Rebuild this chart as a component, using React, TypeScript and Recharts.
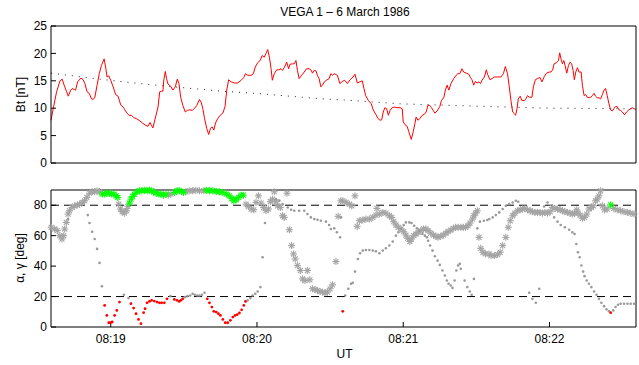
import { ComposedChart, Line, Scatter, XAxis, YAxis, ReferenceLine } from 'recharts'

// time is seconds after 08:18:00 UT
const timeDomain: [number, number] = [35.5, 275.5]
const timeTicks = [60, 120, 180, 240]
const btTicks = [0, 5, 10, 15, 20, 25]
const angleTicks = [0, 20, 40, 60, 80]
const angleLimits = [20, 80]

// measured field magnitude Bt [nT]
const btMeasured: [number, number][] = [
  [35.5, 7.8], [36.4, 9.9], [37.8, 13.0], [39.2, 15.0], [40.1, 15.3], [40.9, 14.2], [41.9, 13.0], [42.6, 12.2], [43.6, 13.3], [44.2, 13.6],
  [45.0, 13.4], [45.6, 13.3], [46.4, 14.8], [47.8, 15.5], [48.7, 15.2], [49.4, 14.5], [50.3, 13.0], [51.2, 12.7], [52.1, 11.7], [52.8, 11.6],
  [53.5, 12.0], [54.4, 14.2], [55.3, 16.3], [56.2, 17.8], [57.3, 19.0], [57.9, 17.5], [58.5, 15.7], [59.2, 15.9], [60.0, 15.1], [61.0, 13.9],
  [62.0, 12.5], [63.0, 12.2], [64.1, 10.6], [65.1, 10.2], [65.8, 9.7], [66.7, 9.1], [67.5, 8.7], [68.5, 8.7], [69.4, 8.3], [70.5, 8.1],
  [71.6, 7.8], [73.0, 7.3], [74.2, 6.9], [75.3, 6.7], [76.1, 7.4], [76.7, 6.9], [77.3, 6.4], [78.4, 8.4], [79.4, 10.2], [80.1, 13.0],
  [80.8, 13.1], [81.4, 13.1], [81.8, 15.2], [82.4, 16.7], [82.9, 15.4], [83.5, 14.4], [84.6, 14.0], [85.5, 13.3], [86.5, 13.9], [87.3, 15.3],
  [88.0, 14.5], [88.7, 12.0], [89.6, 10.5], [90.6, 9.3], [91.4, 9.6], [92.4, 9.7], [93.5, 9.6], [94.4, 10.0], [95.3, 10.5], [96.4, 11.6],
  [97.1, 11.1], [97.8, 9.9], [98.5, 8.1], [99.4, 6.3], [100.2, 5.2], [100.9, 6.3], [101.6, 6.6], [102.3, 6.0], [103.0, 7.3], [103.9, 8.1],
  [104.9, 8.7], [106.0, 9.1], [106.9, 10.3], [107.6, 13.3], [108.4, 15.2], [109.4, 14.8], [110.8, 14.6], [112.1, 14.6], [113.5, 15.1], [114.6, 15.6],
  [115.3, 16.3], [116.2, 16.0], [117.6, 16.0], [118.5, 16.3], [119.3, 17.5], [120.3, 18.3], [121.3, 18.7], [122.1, 19.6], [123.0, 19.3], [123.7, 20.0],
  [124.4, 20.7], [125.1, 19.3], [125.8, 17.2], [126.3, 15.1], [127.1, 16.3], [128.1, 17.0], [128.9, 17.0], [129.9, 17.2], [130.5, 16.9], [131.2, 17.4],
  [132.2, 18.4], [133.0, 17.2], [133.5, 18.0], [134.6, 18.1], [135.3, 18.1], [136.0, 18.7], [136.6, 16.9], [137.3, 15.4], [138.3, 16.0], [139.4, 16.6],
  [140.3, 17.2], [141.4, 17.2], [142.1, 17.0], [142.8, 16.4], [143.5, 16.9], [144.2, 16.8], [144.8, 16.0], [145.5, 15.4], [146.2, 13.9], [146.9, 14.2],
  [147.6, 14.8], [148.5, 15.1], [149.6, 15.4], [150.3, 16.3], [151.0, 16.0], [151.7, 16.3], [153.0, 16.0], [154.0, 14.5], [155.1, 14.9], [156.0, 15.1],
  [157.1, 14.5], [158.2, 15.2], [159.4, 15.7], [160.2, 16.2], [161.2, 14.6], [162.2, 14.8], [163.2, 15.0], [163.9, 13.6], [164.6, 12.3], [165.7, 11.4],
  [166.9, 10.8], [167.7, 9.7], [168.7, 8.9], [169.7, 8.1], [170.5, 7.8], [171.2, 7.9], [171.8, 9.3], [172.5, 10.1], [173.2, 9.9], [173.9, 8.7],
  [174.6, 9.6], [175.5, 10.1], [176.5, 10.2], [177.5, 10.1], [178.7, 10.1], [179.6, 9.9], [180.0, 7.5], [180.7, 7.0], [181.6, 6.7], [182.3, 5.7],
  [183.3, 4.3], [184.1, 5.7], [184.8, 7.2], [185.3, 8.4], [186.0, 7.8], [186.8, 8.1], [187.8, 8.7], [188.7, 8.9], [189.4, 9.3], [190.1, 10.5],
  [190.9, 10.5], [191.6, 10.1], [192.3, 9.6], [193.0, 9.1], [193.9, 9.5], [195.0, 10.3], [195.7, 11.4], [196.7, 12.0], [197.3, 13.3], [198.0, 14.2],
  [198.7, 13.3], [199.6, 14.5], [200.7, 15.4], [201.7, 16.0], [202.4, 16.3], [203.2, 16.3], [204.1, 17.2], [204.8, 16.6], [205.9, 16.4], [206.9, 16.2],
  [207.6, 15.6], [208.2, 15.2], [208.9, 14.2], [209.6, 14.9], [210.3, 14.6], [211.0, 14.8], [211.7, 14.5], [212.3, 15.1], [213.3, 15.7], [214.1, 17.0],
  [214.6, 16.2], [215.6, 15.2], [216.4, 15.4], [217.4, 15.7], [218.7, 15.7], [220.1, 15.7], [221.1, 16.3], [221.9, 17.6], [222.8, 16.3], [223.5, 13.9],
  [224.2, 11.4], [224.9, 9.3], [225.6, 9.0], [226.1, 8.7], [226.7, 9.9], [227.2, 11.7], [228.0, 12.2], [228.7, 11.4], [229.7, 11.4], [230.3, 11.7],
  [231.0, 12.3], [231.7, 12.0], [232.8, 12.0], [233.4, 13.9], [234.2, 15.2], [235.1, 15.4], [236.1, 15.6], [236.9, 14.8], [237.9, 15.8], [238.8, 16.4],
  [239.9, 16.6], [240.6, 16.6], [241.3, 17.0], [241.9, 18.1], [242.9, 18.3], [243.7, 18.7], [244.2, 20.1], [244.8, 18.9], [245.3, 18.1], [245.9, 18.7],
  [246.4, 17.8], [247.1, 16.4], [247.8, 17.8], [248.5, 18.4], [249.1, 18.1], [249.7, 16.9], [250.2, 15.2], [250.8, 16.6], [251.5, 17.4], [252.1, 16.6],
  [253.0, 16.6], [253.5, 14.2], [254.2, 12.3], [254.8, 12.5], [255.5, 12.0], [256.2, 11.9], [256.9, 12.0], [257.6, 12.3], [258.3, 12.7], [258.9, 12.2],
  [259.6, 11.9], [260.3, 11.9], [261.0, 11.7], [261.7, 12.5], [262.4, 13.3], [263.0, 13.6], [263.7, 12.3], [264.4, 10.8], [265.1, 9.7], [265.8, 9.5],
  [266.4, 9.9], [267.1, 10.3], [267.8, 10.3], [268.5, 9.7], [269.2, 9.6], [269.9, 9.3], [270.8, 8.8], [271.6, 9.3], [272.6, 9.7], [273.3, 9.9],
  [274.0, 10.1], [274.7, 9.9], [275.4, 9.8],
]

// model / reference field (dotted)
const btModel: [number, number][] = [
  [35.5, 16.4], [55.5, 15.3], [76.0, 14.3], [95.6, 13.5], [105.9, 13.1], [119.6, 12.7], [133.3, 12.2],
  [146.8, 11.7], [155.8, 11.5], [178.9, 10.8], [215.0, 10.3], [239.9, 10.0], [275.5, 9.9],
]

// alpha (asterisks), grey
const alphaGrey: [number, number][] = [
  [35.6, 65.5], [37.0, 64.4], [38.1, 63.3], [39.1, 60.0], [40.0, 57.8], [40.7, 60.0], [41.1, 64.4], [41.8, 68.7], [42.5, 74.2], [43.1, 76.4],
  [44.1, 78.5], [45.2, 79.6], [46.3, 80.1], [47.2, 80.7], [48.3, 81.8], [49.3, 82.9], [50.2, 85.1], [51.3, 87.9], [52.4, 88.8], [53.4, 88.8],
  [54.4, 89.5], [55.4, 88.8],
  [63.3, 80.7], [64.0, 77.5], [64.7, 75.7], [65.6, 74.8], [66.5, 76.4], [67.0, 79.3],
  [83.6, 86.6], [84.7, 87.3],
  [90.8, 88.8], [92.2, 89.5], [93.6, 89.5], [94.9, 89.9], [96.4, 89.5], [98.2, 89.5],
  [115.5, 80.7], [116.5, 79.2], [117.6, 77.5], [118.7, 77.0], [119.6, 81.8], [120.6, 86.2], [121.7, 81.4], [122.7, 78.5], [123.7, 76.4], [124.7, 77.5],
  [125.5, 82.3], [126.4, 84.0], [127.1, 88.8], [127.8, 82.3], [128.5, 79.6], [129.6, 78.5], [130.5, 73.1], [131.2, 72.0], [132.3, 87.9], [133.3, 63.9],
  [134.2, 53.5], [135.0, 48.0], [135.7, 44.7], [136.6, 40.4], [137.8, 37.1], [138.7, 31.6], [139.7, 30.5], [140.7, 37.1], [141.7, 31.0], [142.8, 25.1],
  [143.8, 24.7], [144.8, 24.0], [145.9, 23.3], [146.9, 22.9], [147.9, 22.5], [148.9, 22.9], [150.0, 25.1], [151.0, 27.7], [152.4, 43.0], [153.3, 72.7],
  [154.4, 82.9], [155.2, 82.9], [156.6, 81.8], [157.9, 80.7], [158.9, 79.6], [160.2, 86.2], [161.1, 66.1], [162.0, 69.8], [163.4, 70.3], [164.7, 70.9],
  [166.1, 70.9], [167.5, 72.0], [168.8, 73.5], [169.2, 77.9], [170.2, 74.2], [171.6, 75.3], [172.9, 74.8], [174.3, 73.1], [175.3, 72.0], [176.1, 69.2],
  [177.0, 67.0], [178.0, 65.5], [179.1, 64.4], [180.2, 62.6], [181.1, 60.4], [181.8, 58.3], [182.7, 56.1], [183.4, 57.8], [184.3, 60.0], [185.2, 61.1],
  [186.1, 62.2], [187.2, 63.3], [188.3, 64.4], [189.3, 64.4], [190.2, 63.3], [191.3, 61.7], [192.4, 60.4], [193.4, 59.6], [194.3, 58.9], [195.4, 59.6],
  [196.5, 60.4], [197.5, 61.7], [198.4, 62.6], [199.5, 63.7], [200.6, 64.8], [201.5, 65.5], [202.5, 65.5], [203.6, 65.5], [204.7, 65.5], [205.6, 65.5],
  [206.6, 66.5], [207.4, 68.3], [208.4, 70.9], [209.0, 73.1], [209.7, 74.8], [210.4, 76.4], [211.1, 58.9], [211.8, 51.7], [212.7, 49.1], [213.8, 48.0],
  [215.2, 48.0], [216.0, 46.9], [217.4, 46.9], [218.7, 47.6], [219.8, 49.1], [220.8, 53.5], [222.1, 58.9], [223.1, 65.5], [223.9, 69.8], [224.9, 73.1],
  [225.8, 74.8], [226.9, 76.4], [228.0, 77.0], [228.9, 77.5], [229.9, 77.9], [231.0, 77.0], [232.1, 76.4], [233.0, 75.7], [234.0, 75.3], [235.1, 75.3],
  [236.2, 75.3], [237.1, 74.8], [238.1, 75.3], [239.2, 74.8], [240.3, 75.7], [241.2, 78.5], [242.2, 77.9], [243.3, 77.5], [244.4, 77.0], [245.3, 76.4],
  [246.3, 75.7], [247.4, 75.3], [248.5, 74.8], [249.4, 74.2], [250.3, 74.8], [251.2, 77.0], [251.7, 74.8], [252.6, 73.5], [253.5, 71.4], [254.4, 72.0],
  [255.3, 74.2], [256.2, 77.5], [257.2, 78.5], [258.0, 79.6], [258.9, 82.9], [259.6, 84.0], [260.3, 86.2], [261.0, 89.5], [261.7, 79.6], [262.6, 77.0],
  [263.7, 77.5], [266.4, 77.9], [267.8, 77.0], [269.2, 76.4], [270.6, 75.7], [272.0, 75.3], [273.3, 74.8], [274.7, 74.2],
]

// alpha (asterisks), highlighted
const alphaGreen: [number, number][] = [
  [56.5, 87.3], [57.5, 87.3], [58.5, 87.9], [59.5, 87.9], [60.4, 87.3], [61.3, 87.3], [62.2, 86.2], [62.9, 85.1],
  [67.7, 81.4], [68.3, 84.0], [69.0, 85.8], [69.7, 87.3], [70.8, 88.8], [71.8, 89.5], [72.8, 89.5], [73.8, 89.9], [74.9, 89.5], [75.9, 89.9],
  [76.8, 89.5], [77.6, 88.8], [78.6, 87.9], [79.7, 87.3], [80.6, 87.3], [81.7, 86.6], [82.7, 87.3],
  [86.1, 88.4], [87.2, 89.5], [88.1, 89.5], [89.1, 89.0], [89.9, 88.4],
  [99.2, 89.9], [100.5, 89.5], [101.9, 89.5], [103.3, 89.0], [104.6, 88.8], [106.0, 88.4], [107.4, 87.3], [108.7, 86.2], [109.7, 84.4], [110.5, 82.9],
  [111.4, 83.6], [112.4, 85.1], [113.5, 86.6], [114.4, 86.6],
  [265.1, 80.2],
]

// gamma (dots), grey
const gammaGrey: [number, number][] = [
  [42.5, 70.9], [50.6, 73.5], [51.3, 68.3], [52.4, 62.6], [53.4, 57.8], [54.4, 51.3], [55.4, 42.1], [56.4, 26.8],
  [65.4, 21.2], [67.3, 19.0], [84.5, 20.3], [90.4, 19.6], [91.5, 20.3], [92.6, 20.7], [93.6, 21.8], [94.5, 21.2], [95.5, 20.7], [96.4, 20.7],
  [97.4, 21.2], [98.5, 22.5],
  [116.2, 17.5], [117.3, 19.0], [118.2, 20.7], [119.3, 21.8], [120.3, 23.3], [121.4, 26.2], [122.3, 45.8], [123.3, 68.3],
  [127.8, 84.0], [129.2, 83.0], [130.5, 80.7], [132.6, 78.5], [134.0, 77.0], [135.3, 76.4], [137.3, 76.4], [139.4, 76.4], [140.7, 74.2], [142.1, 72.0],
  [143.5, 70.9], [144.8, 70.5], [146.2, 69.8], [148.3, 69.2], [149.6, 67.0], [150.3, 64.4], [151.7, 64.8], [152.8, 62.2], [154.1, 58.9], [154.5, 72.0],
  [156.2, 20.7], [157.5, 25.1], [158.6, 28.4], [159.3, 29.0], [160.2, 36.4], [161.4, 44.7], [162.3, 48.4], [163.4, 50.2], [164.7, 50.6], [166.1, 50.6],
  [167.5, 50.2], [168.8, 49.7], [170.2, 48.4], [171.6, 50.2], [172.9, 51.7], [174.3, 53.5], [175.7, 56.1], [177.0, 60.0], [178.0, 62.2], [179.1, 64.4],
  [180.2, 67.0], [181.1, 68.7], [182.5, 68.7], [183.4, 68.3], [184.5, 66.5], [185.6, 64.8], [186.5, 63.3], [187.9, 61.1], [188.9, 60.0], [189.7, 58.9],
  [190.2, 56.7], [191.0, 53.5], [192.0, 50.2], [193.0, 46.5], [194.1, 43.6], [195.0, 40.8], [196.1, 37.1], [197.1, 33.8], [197.9, 30.5], [198.6, 28.4],
  [199.5, 27.3], [200.2, 25.7], [201.1, 30.5], [201.8, 37.1], [202.5, 40.4], [203.2, 41.5], [203.6, 38.2], [205.2, 30.5], [206.3, 26.2], [207.3, 23.3],
  [208.1, 21.2], [209.0, 31.6],
  [210.4, 64.8], [211.5, 69.2], [213.1, 69.8], [214.5, 70.3], [215.3, 70.9], [216.7, 72.0], [218.0, 73.5], [219.4, 75.3], [220.8, 77.5], [222.1, 79.6],
  [223.5, 80.7], [224.9, 81.8], [226.2, 82.9], [227.2, 82.3],
  [231.7, 22.5], [233.0, 18.5], [234.4, 15.9], [235.8, 25.1], [237.8, 79.2], [239.2, 81.8],
  [241.9, 72.0], [243.3, 69.2], [244.6, 67.0], [246.3, 65.5], [248.1, 63.9], [249.4, 62.2], [250.3, 61.1], [251.0, 54.5], [251.7, 49.1], [252.4, 45.8],
  [253.1, 40.4], [253.8, 36.4], [254.4, 33.4], [255.3, 30.5], [256.2, 28.4], [257.2, 26.2], [258.3, 23.3], [259.3, 21.2], [260.3, 18.5], [261.3, 15.9],
  [262.4, 13.7], [263.4, 11.6], [264.4, 10.3], [266.2, 10.9], [267.1, 13.1], [268.1, 14.6], [269.2, 15.3], [270.6, 15.3], [272.0, 15.3], [273.3, 15.3],
  [274.7, 15.3],
]

// gamma (dots), highlighted
const gammaRed: [number, number][] = [
  [57.5, 14.2], [58.4, 7.6], [59.2, 2.8], [59.9, 2.8], [60.6, 3.3], [61.6, 7.6], [62.5, 10.9], [63.6, 16.4],
  [68.3, 15.3], [69.4, 12.4], [70.4, 8.7], [71.4, 5.0], [72.4, 2.2], [73.5, 9.4], [74.1, 12.0], [74.9, 15.9], [75.9, 16.8], [76.8, 17.5],
  [77.9, 17.0], [79.0, 16.4], [80.0, 15.9], [80.9, 15.9], [82.0, 15.9], [83.1, 18.5],
  [86.1, 18.1], [87.2, 17.5], [88.1, 16.8], [88.8, 17.5], [89.5, 18.5],
  [99.6, 18.5], [100.5, 15.9], [101.5, 13.1], [102.3, 10.3], [103.3, 9.8], [104.2, 8.7], [105.0, 7.6], [106.0, 5.0], [107.0, 2.8], [108.0, 2.8],
  [109.1, 4.4], [110.1, 6.5], [111.0, 7.6], [111.9, 8.1], [112.8, 9.2], [113.7, 11.3], [114.6, 14.2], [115.3, 16.8],
  [155.2, 10.3], [265.1, 9.4],
]

const pts = (arr: [number, number][]) => arr.map(([t, v]) => ({ t, v }))
const fmtUT = (t: number) => `08:${18 + Math.round(t / 60)}`

const FONT = 'Liberation Sans, Arial, Helvetica, sans-serif'
const tickStyle = { fontSize: 12, fill: '#000', fontFamily: FONT }
const GREY_STAR = '#a4a4a4'
const GREY_DOT = '#999999'

function asterisk(color: string) {
  return (p: any) => {
    const { cx, cy } = p
    if (cx == null || cy == null) return <g />
    const r = 3.5
    const d = r * 0.72
    return (
      <g stroke={color} strokeWidth={1.1}>
        <line x1={cx - r} y1={cy} x2={cx + r} y2={cy} />
        <line x1={cx} y1={cy - r} x2={cx} y2={cy + r} />
        <line x1={cx - d} y1={cy - d} x2={cx + d} y2={cy + d} />
        <line x1={cx - d} y1={cy + d} x2={cx + d} y2={cy - d} />
      </g>
    )
  }
}

function dot(color: string, r: number) {
  return (p: any) => {
    const { cx, cy } = p
    if (cx == null || cy == null) return <g />
    return <circle cx={cx} cy={cy} r={r} fill={color} />
  }
}

function boxAxes(yDomain: [number, number], yTicks: number[], showX: boolean) {
  return [
    <XAxis
      key="xb"
      xAxisId="b"
      type="number"
      dataKey="t"
      domain={timeDomain}
      ticks={timeTicks}
      interval={0}
      tickFormatter={fmtUT}
      tick={showX ? tickStyle : false}
      tickSize={-5}
      tickMargin={12.5}
      height={showX ? 25 : 1}
      stroke="#000"
    />,
    <XAxis
      key="xt"
      xAxisId="t"
      orientation="top"
      type="number"
      dataKey="t"
      domain={timeDomain}
      ticks={timeTicks}
      interval={0}
      tick={false}
      tickSize={-5}
      height={1}
      stroke="#000"
    />,
    <YAxis
      key="yl"
      yAxisId="l"
      type="number"
      dataKey="v"
      domain={yDomain}
      ticks={yTicks}
      interval={0}
      tick={tickStyle}
      tickSize={-5}
      tickMargin={9}
      width={30}
      stroke="#000"
    />,
    <YAxis
      key="yr"
      yAxisId="r"
      orientation="right"
      type="number"
      dataKey="v"
      domain={yDomain}
      ticks={yTicks}
      interval={0}
      tick={false}
      tickSize={-5}
      width={1}
      stroke="#000"
    />,
  ]
}

export default function App() {
  return (
    <div style={{ position: 'absolute', left: 0, top: 0, width: 639, height: 365, background: '#fff', fontFamily: FONT }}>
      <div style={{ position: 'absolute', left: 0, top: 0 }}>
        <ComposedChart width={639} height={175} margin={{ top: 25, right: 2, bottom: 11, left: 21 }}>
          {boxAxes([0, 25], btTicks, false)}
          <Line
            xAxisId="t"
            yAxisId="r"
            data={pts(btModel)}
            dataKey="v"
            type="linear"
            stroke="#222"
            strokeWidth={1}
            strokeDasharray="1 6"
            dot={false}
            isAnimationActive={false}
          />
          <Line
            xAxisId="b"
            yAxisId="l"
            data={pts(btMeasured)}
            dataKey="v"
            type="linear"
            stroke="#ff0000"
            strokeWidth={1}
            dot={false}
            isAnimationActive={false}
          />
        </ComposedChart>
      </div>
      <div style={{ position: 'absolute', left: 0, top: 175 }}>
        <ComposedChart width={639} height={190} margin={{ top: 14, right: 2, bottom: 13, left: 21 }}>
          {boxAxes([0, 90], angleTicks, true)}
          {angleLimits.map((y) => (
            <ReferenceLine key={y} xAxisId="b" yAxisId="l" y={y} stroke="#000" strokeDasharray="8 5" />
          ))}
          <Scatter xAxisId="b" yAxisId="l" data={pts(alphaGrey)} dataKey="v" shape={asterisk(GREY_STAR)} isAnimationActive={false} />
          <Scatter xAxisId="t" yAxisId="r" data={pts(gammaGrey)} dataKey="v" shape={dot(GREY_DOT, 1.3)} isAnimationActive={false} />
          <Scatter xAxisId="b" yAxisId="l" data={pts(alphaGreen)} dataKey="v" shape={asterisk('#00ff00')} isAnimationActive={false} />
          <Scatter xAxisId="b" yAxisId="l" data={pts(gammaRed)} dataKey="v" shape={dot('#ff0000', 1.4)} isAnimationActive={false} />
        </ComposedChart>
      </div>
      <svg width={639} height={365} style={{ position: 'absolute', left: 0, top: 0, pointerEvents: 'none' }}>
        <text x={345} y={16} textAnchor="middle" fontSize={12} fontFamily={FONT} fill="#000">
          VEGA 1 – 6 March 1986
        </text>
        <text transform="translate(24.5,94.5) rotate(-90)" textAnchor="middle" fontSize={12} fontFamily={FONT} fill="#000">
          Bt [nT]
        </text>
        <text transform="translate(24,258) rotate(-90)" textAnchor="middle" fontSize={12} fontFamily={FONT} fill="#000">
          α, γ [deg]
        </text>
        <text x={344.5} y={358} textAnchor="middle" fontSize={12} fontFamily={FONT} fill="#000">
          UT
        </text>
      </svg>
    </div>
  )
}
